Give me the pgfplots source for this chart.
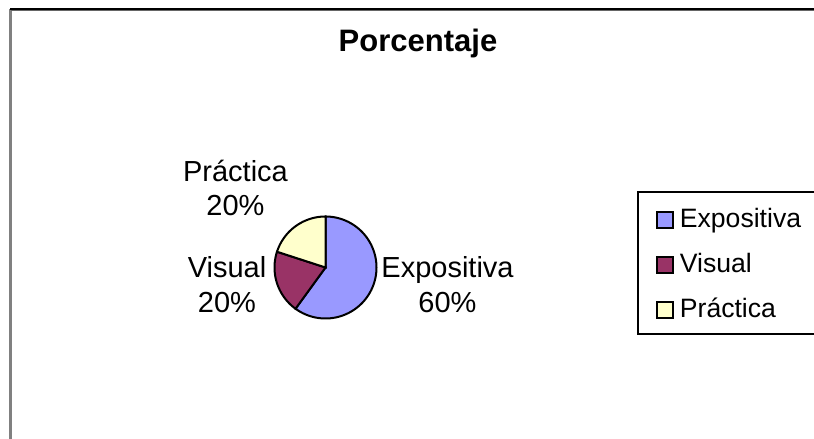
\documentclass[border=0pt]{standalone}
\usepackage{fontspec}
\setmainfont{Liberation Sans}
\usepackage{pgfplots}
\usepackage{pgfplotstable}
\pgfplotsset{compat=1.18}
\definecolor{cExp}{HTML}{9999FF}
\definecolor{cVis}{HTML}{993366}
\definecolor{cPra}{HTML}{FFFFCC}
\pgfplotstableread{
label value
Expositiva 60
Visual 20
Practica 20
}\piedata
\pgfplotstablegetelem{0}{value}\of\piedata \let\vA\pgfplotsretval
\pgfplotstablegetelem{1}{value}\of\piedata \let\vB\pgfplotsretval
\pgfplotstablegetelem{2}{value}\of\piedata \let\vC\pgfplotsretval
\pgfmathsetmacro{\aA}{90}
\pgfmathsetmacro{\aB}{\aA-3.6*\vA}
\pgfmathsetmacro{\aC}{\aB-3.6*\vB}
\pgfmathsetmacro{\aD}{\aC-3.6*\vC}
\def\cx{325.5}
\def\cy{-267.5}
\def\rr{51}
\begin{document}
\begin{tikzpicture}
\begin{axis}[
  at={(0,0)}, anchor=south west,
  scale only axis, width=407pt, height=219.5pt,
  xmin=0, xmax=814, ymin=-439, ymax=0,
  hide axis,
  legend cell align=left,
  legend image code/.code={\draw[#1, line width=1pt] (0pt,-3.6pt) rectangle (8pt,4.4pt);},
  legend style={at={(axis cs:655.5,-207)}, anchor=north west, draw=none, fill=none,
    inner sep=0pt, row sep=9.5pt,
    font=\fontsize{13.3}{16}\selectfont,
    nodes={inner sep=0pt, text height=10pt, text depth=3pt},
    /tikz/every odd column/.append style={column sep=3pt}},
]
\draw[black!50, line width=1.2pt] (axis cs:10.5,-500) -- (axis cs:10.5,-9);
\draw[black, line width=0.8pt] (axis cs:10,-9) -- (axis cs:900,-9);
\draw[black!60, line width=0.5pt] (axis cs:11,-10.3) -- (axis cs:900,-10.3);
\draw[black, line width=0.6pt] (axis cs:638,-192) rectangle (axis cs:900,-334);

\addplot[fill=cExp, draw=black, line width=1pt, domain=\aB:\aA, samples=90, variable=\t]
  ({\cx+\rr*cos(\t)},{\cy+\rr*sin(\t)}) -- (axis cs:\cx,\cy) -- cycle;
\addlegendentry{Expositiva}
\addplot[fill=cVis, draw=black, line width=1pt, domain=\aC:\aB, samples=40, variable=\t]
  ({\cx+\rr*cos(\t)},{\cy+\rr*sin(\t)}) -- (axis cs:\cx,\cy) -- cycle;
\addlegendentry{Visual}
\addplot[fill=cPra, draw=black, line width=1pt, domain=\aD:\aC, samples=40, variable=\t]
  ({\cx+\rr*cos(\t)},{\cy+\rr*sin(\t)}) -- (axis cs:\cx,\cy) -- cycle;
\addlegendentry{Práctica}

\node[font=\fontsize{15.5}{18}\selectfont\bfseries, anchor=base] at (axis cs:418,-52) {Porcentaje};
\begin{scope}[every node/.style={anchor=base, inner sep=0pt, font=\fontsize{14.5}{16.5}\selectfont}]
\node at (axis cs:235.5,-182) {Práctica};
\node at (axis cs:235.5,-216) {20\%};
\node at (axis cs:227,-278) {Visual};
\node at (axis cs:227,-313) {20\%};
\node at (axis cs:447.5,-278) {Expositiva};
\node at (axis cs:447.5,-313) {60\%};
\end{scope}
\end{axis}
\pgfresetboundingbox
\path[use as bounding box] (0,0) rectangle (407pt,219.5pt);
\end{tikzpicture}
\end{document}
